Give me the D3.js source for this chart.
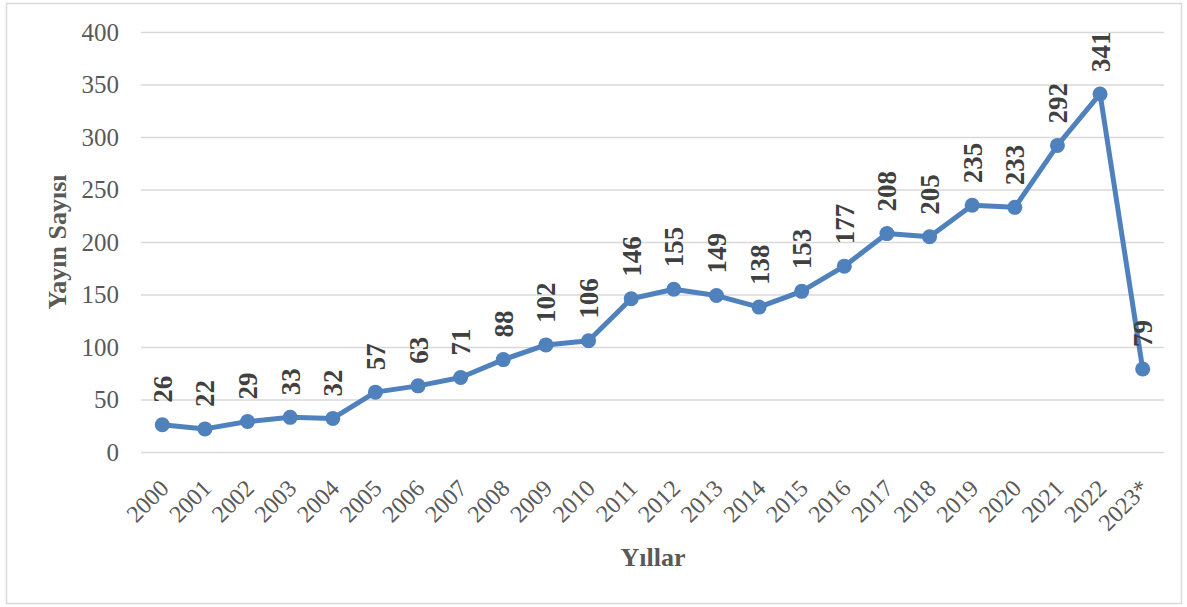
<!DOCTYPE html>
<html>
<head>
<meta charset="utf-8">
<script src="https://cdn.jsdelivr.net/npm/d3@7"></script>
<style>
  body { margin: 0; background: #fff; }
  svg { display: block; font-family: "Liberation Serif", serif; }
</style>
</head>
<body>
<script>
// DATA
const YEARS = ['2000', '2001', '2002', '2003', '2004', '2005', '2006', '2007', '2008', '2009', '2010', '2011',
  '2012', '2013', '2014', '2015', '2016', '2017', '2018', '2019', '2020', '2021', '2022', '2023*'];
const COUNTS = [26, 22, 29, 33, 32, 57, 63, 71, 88, 102, 106, 146, 155, 149, 138, 153, 177, 208, 205, 235, 233, 292, 341, 79];
const Y_TICKS = [0, 50, 100, 150, 200, 250, 300, 350, 400];

// CONSTANTS
const WIDTH = 1187;
const HEIGHT = 607;
const LEFT = 141, RIGHT = 1164, TOP = 32, BOTTOM = 452;
const LINE_COLOR = '#4f81bd';

const dataset = YEARS.map((y, i) => ({ year: y, count: COUNTS[i] }));

const X_SCALE = d3.scaleBand()
  .domain(YEARS)
  .range([LEFT, RIGHT]);
const Y_SCALE = d3.scaleLinear()
  .domain([0, 400])
  .range([BOTTOM, TOP]);
const cx = (d) => X_SCALE(d) + X_SCALE.bandwidth() / 2;

const svg = d3.select('body')
  .append('svg')
  .attr('width', WIDTH)
  .attr('height', HEIGHT);

// chart border
svg.append('rect')
  .attr('x', 6.5).attr('y', 3.5)
  .attr('width', 1175).attr('height', 600)
  .attr('fill', '#fff')
  .attr('stroke', '#d9d9d9')
  .attr('stroke-width', 1.5);

// GRID + Y-AXIS
const Y_AXIS = d3.axisLeft(Y_SCALE)
  .tickValues(Y_TICKS)
  .tickSize(-(RIGHT - LEFT))
  .tickPadding(22);
const yAxis = svg.append('g')
  .attr('transform', 'translate(' + LEFT + ',0)')
  .call(Y_AXIS);
yAxis.select('.domain').remove();
yAxis.selectAll('line').attr('stroke', '#d9d9d9').attr('stroke-width', 1.5);
yAxis.selectAll('text')
  .attr('fill', '#595959')
  .style('font-size', '25px')
  .style('font-family', '"Liberation Serif", serif');

// X-AXIS labels
svg.append('g')
  .selectAll('text')
  .data(YEARS)
  .enter()
  .append('text')
  .attr('transform', (d) => 'translate(' + (cx(d) - 4) + ',' + 478 + ') rotate(-45)')
  .attr('text-anchor', 'end')
  .attr('dy', '0.7em')
  .attr('fill', '#595959')
  .style('font-size', '24px')
  .text((d) => d);

// LINE
const line = d3.line()
  .x((d) => cx(d.year))
  .y((d) => Y_SCALE(d.count));
svg.append('path')
  .datum(dataset)
  .attr('d', line)
  .attr('fill', 'none')
  .attr('stroke', LINE_COLOR)
  .attr('stroke-width', 5)
  .attr('stroke-linejoin', 'round');

svg.selectAll('circle')
  .data(dataset)
  .enter()
  .append('circle')
  .attr('cx', (d) => cx(d.year))
  .attr('cy', (d) => Y_SCALE(d.count))
  .attr('r', 7.5)
  .attr('fill', LINE_COLOR);

// DATA LABELS
svg.append('g')
  .selectAll('text')
  .data(dataset)
  .enter()
  .append('text')
  .attr('transform', (d) => 'translate(' + cx(d.year) + ',' + (Y_SCALE(d.count) - 22) + ') rotate(-90)')
  .attr('dy', '0.35em')
  .attr('text-anchor', 'start')
  .attr('fill', '#404040')
  .style('font-size', '27px')
  .style('font-weight', 'bold')
  .text((d) => d.count);

// AXIS TITLES
svg.append('text')
  .attr('transform', 'translate(57,242) rotate(-90)')
  .attr('text-anchor', 'middle')
  .attr('dy', '0.35em')
  .attr('fill', '#595959')
  .style('font-size', '26px')
  .style('font-weight', 'bold')
  .text('Yayın Sayısı');

svg.append('text')
  .attr('x', 653)
  .attr('y', 557)
  .attr('text-anchor', 'middle')
  .attr('dy', '0.35em')
  .attr('fill', '#595959')
  .style('font-size', '26px')
  .style('font-weight', 'bold')
  .text('Yıllar');
</script>
</body>
</html>
